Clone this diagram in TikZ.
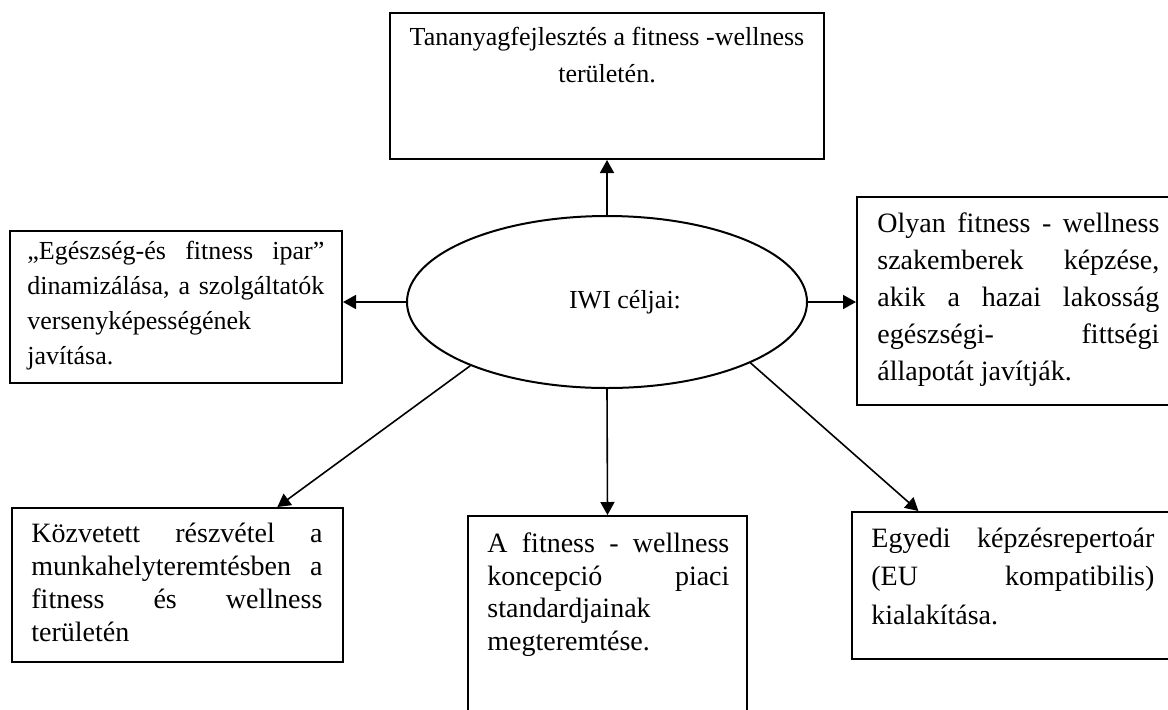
\documentclass[tikz,border=0pt]{standalone}
\usepackage{fontspec}
\setmainfont{Liberation Serif}
\usetikzlibrary{positioning,shapes.geometric,arrows.meta}
\newcommand{\celfont}[2]{\fontsize{#1}{#2}\selectfont\parindent=0pt\hyphenpenalty=10000\tolerance=10000}
\tikzset{
  cel/.style={draw, line width=1pt, inner sep=0pt},
  celtext/.style={inner sep=0pt, align=justify},
  nyil/.style={-{Triangle[length=6.5pt,width=7pt]}, line width=0.8pt}
}

\begin{document}
\begin{tikzpicture}[x=0.5pt,y=-0.5pt]
\useasboundingbox (0,0) rectangle (1168,709);
\node[cel, minimum width=217pt, minimum height=73pt] (dev) at (607,86) {};
\node[cel, minimum width=166pt, minimum height=76pt] (indus) at (176,307) {};
\node[cel, minimum width=166.5pt, minimum height=104pt] (train) at (1023.5,301) {};
\node[cel, minimum width=165.5pt, minimum height=77pt] (job) at (177.5,585) {};
\node[cel, minimum width=139.5pt, minimum height=104.5pt] (std) at (607.5,620.5) {};
\node[cel, minimum width=169pt, minimum height=73.5pt] (uniq) at (1021,585.5) {};
\node[cel, ellipse, minimum width=200pt, minimum height=86pt] (iwi) at (607,302) {};
\node[celtext, align=center, font=\celfont{13}{18.5}, below=7.25pt of dev.north] (devtext) {Tananyagfejlesztés a fitness -wellness\\területén.};
\node[celtext, text width=148.5pt, font=\celfont{13}{17.5}, below right=5.5pt and 9pt of indus.north west] (industext) {„Egészség-és fitness ipar”\linebreak dinamizálása, a szolgáltatók\linebreak versenyképességének\\javítása.};
\node[celtext, text width=141pt, font=\celfont{14}{18.5}, below right=8.3pt and 10.5pt of train.north west] (traintext) {Olyan fitness - wellness\linebreak szakemberek képzése,\linebreak akik a hazai lakosság\linebreak egészségi- fittségi\linebreak állapotát javítják.};
\node[celtext, text width=145.5pt, font=\celfont{14}{16.5}, below right=7.8pt and 10pt of job.north west] (jobtext) {Közvetett részvétel a\linebreak munkahelyteremtésben a\linebreak fitness és wellness\linebreak területén};
\node[celtext, text width=121pt, font=\celfont{14}{16.25}, below right=8.8pt and 10pt of std.north west] (stdtext) {A fitness - wellness\linebreak koncepció piaci\linebreak standardjainak\\megteremtése.};
\node[celtext, text width=141.5pt, font=\celfont{14}{19.25}, below right=8.3pt and 10pt of uniq.north west] (uniqtext) {Egyedi képzésrepertoár\linebreak (EU kompatibilis)\linebreak kialakítása.};
\node[font=\celfont{13}{16}] (iwitext) at ([xshift=9pt]iwi.center) {IWI céljai:};
\draw[nyil] (iwi.north) -- (dev.south);
\draw[nyil] (iwi.west) -- (iwi.west -| indus.east);
\draw[nyil] (iwi.east) -- (iwi.east -| train.west);
\draw[nyil] (iwi.south) -- (std.north);
\draw[nyil] (iwi.205) -- (job.38);
\draw[nyil] (iwi.-23) -- (uniq.144);
\end{tikzpicture}
\end{document}
